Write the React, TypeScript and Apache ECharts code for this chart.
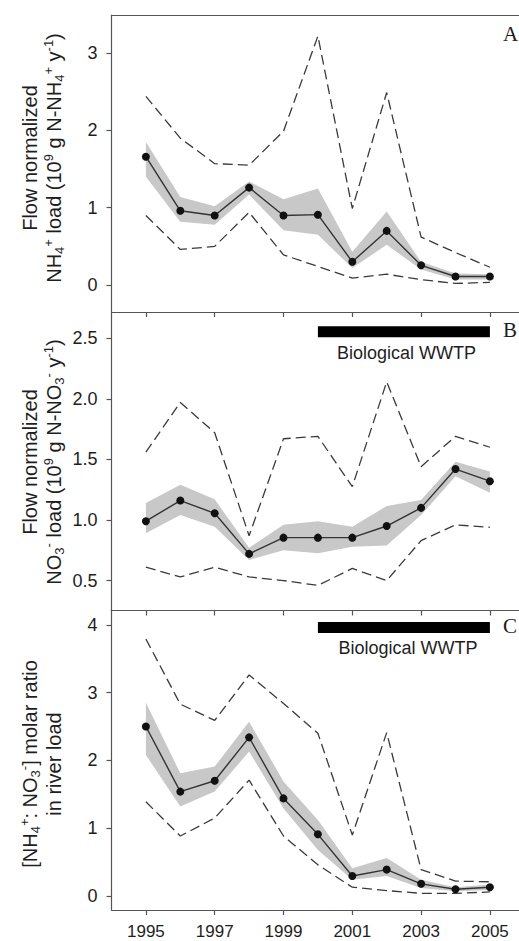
import React, { useEffect, useRef } from "react";
import * as echarts from "echarts";

// ---------- data ----------
const years = [1995, 1996, 1997, 1998, 1999, 2000, 2001, 2002, 2003, 2004, 2005];
const xTickYears = [1995, 1997, 1999, 2001, 2003, 2005];

// Panel A: NH4+ flow-normalized load
const nh4Mean = [1.66, 0.96, 0.9, 1.26, 0.9, 0.91, 0.3, 0.7, 0.255, 0.11, 0.11];
const nh4BandHigh = [1.85, 1.14, 1.02, 1.34, 1.11, 1.25, 0.43, 0.95, 0.3, 0.15, 0.14];
const nh4BandLow = [1.4, 0.82, 0.78, 1.17, 0.71, 0.65, 0.22, 0.52, 0.2, 0.07, 0.07];
const nh4DashHigh = [2.44, 1.9, 1.57, 1.55, 1.99, 3.22, 0.99, 2.49, 0.62, 0.42, 0.23];
const nh4DashLow = [0.9, 0.46, 0.5, 0.94, 0.39, 0.24, 0.09, 0.14, 0.07, 0.02, 0.035];
const nh4Ticks = [0, 1, 2, 3];

// Panel B: NO3- flow-normalized load
const no3Mean = [0.99, 1.16, 1.055, 0.72, 0.854, 0.854, 0.854, 0.95, 1.1, 1.42, 1.32];
const no3BandHigh = [1.14, 1.29, 1.17, 0.77, 0.96, 0.99, 0.945, 1.115, 1.165, 1.48, 1.4];
const no3BandLow = [0.89, 1.04, 0.945, 0.67, 0.75, 0.725, 0.78, 0.79, 1.04, 1.36, 1.225];
const no3DashHigh = [1.56, 1.97, 1.72, 0.87, 1.67, 1.69, 1.275, 2.14, 1.44, 1.69, 1.6];
const no3DashLow = [0.61, 0.53, 0.61, 0.53, 0.5, 0.46, 0.6, 0.5, 0.83, 0.96, 0.94];
const no3Ticks = [0.5, 1.0, 1.5, 2.0, 2.5];

// Panel C: NH4+:NO3- molar ratio
const ratioMean = [2.5, 1.54, 1.7, 2.34, 1.44, 0.91, 0.295, 0.39, 0.18, 0.1, 0.13];
const ratioBandHigh = [2.85, 1.81, 1.91, 2.57, 1.69, 1.12, 0.41, 0.56, 0.24, 0.13, 0.17];
const ratioBandLow = [2.08, 1.32, 1.54, 2.13, 1.29, 0.68, 0.24, 0.295, 0.12, 0.07, 0.09];
const ratioDashHigh = [3.79, 2.83, 2.59, 3.26, 2.84, 2.4, 0.9, 2.41, 0.39, 0.22, 0.21];
const ratioDashLow = [1.39, 0.885, 1.15, 1.71, 0.885, 0.46, 0.13, 0.08, 0.04, 0.04, 0.06];
const ratioTicks = [0, 1, 2, 3, 4];

// Biological WWTP period
const wwtpYears = [2000, 2005];
const wwtpLevelB = 2.553;
const wwtpLevelC = 3.96;
const wwtpLabel = "Biological WWTP";
const panelLetters = ["A", "B", "C"];

// ---------- styling ----------
const SANS = "'Liberation Sans', Arial, Helvetica, sans-serif";
const SERIF = "'Liberation Serif', 'Times New Roman', serif";
const AXIS = "#555555";
const TEXT = "#1e1e1e";
const BAND = "#c8c8c8";
const GL = 111.5;
const GW = 412.8;

function buildOption() {
  const grids = [
    { left: GL, top: 15, width: GW, height: 297 },
    { left: GL, top: 312, width: GW, height: 298.5 },
    { left: GL, top: 610.5, width: GW, height: 299.5 },
  ].map((g) => ({ ...g, containLabel: false, outerBoundsMode: "none" }));

  const lineStyle = { color: AXIS, width: 1.2 };

  const xAxisFor = (gi: number, showLabels: boolean) => ({
    type: "value",
    gridIndex: gi,
    min: 1994,
    max: 2006,
    position: "bottom",
    axisLine: { show: true, onZero: false, lineStyle },
    axisTick: { show: true, inside: false, length: 5, customValues: xTickYears, lineStyle },
    axisLabel: {
      show: showLabels,
      customValues: xTickYears,
      formatter: (v: number) => String(v),
      margin: 13,
      fontSize: 17,
      fontFamily: SANS,
      color: TEXT,
    },
    splitLine: { show: false },
  });

  const topAxis = {
    type: "value",
    gridIndex: 0,
    min: 1994,
    max: 2006,
    position: "top",
    axisLine: { show: true, onZero: false, lineStyle },
    axisTick: { show: false },
    axisLabel: { show: false },
    splitLine: { show: false },
  };

  const yAxisFor = (gi: number, min: number, max: number, ticks: number[], fmt: (v: number) => string) => ({
    type: "value",
    gridIndex: gi,
    min,
    max,
    position: "left",
    axisLine: { show: true, onZero: false, lineStyle },
    axisTick: { show: true, inside: false, length: 5, customValues: ticks, lineStyle },
    axisLabel: {
      customValues: ticks,
      formatter: fmt,
      margin: 14,
      fontSize: 18,
      fontFamily: SANS,
      color: TEXT,
    },
    splitLine: { show: false },
  });

  const band = (gi: number, lo: number[], hi: number[]) => ({
    type: "custom",
    xAxisIndex: gi,
    yAxisIndex: gi,
    z: 1,
    silent: true,
    data: years.map((y, i) => [y, lo[i], hi[i]]),
    encode: { x: 0, y: [1, 2] },
    renderItem: (params: any, api: any) => {
      if (params.dataIndex !== 0) return null;
      const top = years.map((y, i) => api.coord([y, hi[i]]));
      const bot = years.map((y, i) => api.coord([y, lo[i]])).reverse();
      return {
        type: "polygon",
        shape: { points: top.concat(bot) },
        style: { fill: BAND },
      };
    },
  });

  const dash = (gi: number, vals: number[]) => ({
    type: "line",
    xAxisIndex: gi,
    yAxisIndex: gi,
    z: 2,
    silent: true,
    data: years.map((y, i) => [y, vals[i]]),
    symbol: "none",
    lineStyle: { color: "#3a3a3a", width: 1.3, type: [10, 5] },
  });

  const mean = (gi: number, vals: number[]) => ({
    type: "line",
    xAxisIndex: gi,
    yAxisIndex: gi,
    z: 3,
    silent: true,
    data: years.map((y, i) => [y, vals[i]]),
    symbol: "circle",
    symbolSize: 8,
    itemStyle: { color: "#111111" },
    lineStyle: { color: "#333333", width: 1.4 },
  });

  const wwtp = (gi: number, level: number) => ({
    type: "line",
    xAxisIndex: gi,
    yAxisIndex: gi,
    z: 4,
    silent: true,
    data: wwtpYears.map((y) => [y, level]),
    symbol: "none",
    lineStyle: { color: "#000000", width: 11, cap: "butt" },
  });

  const baseTok = { fontSize: 20, fontFamily: SANS, fill: TEXT, lineHeight: 24 };
  const rich = {
    n: { ...baseTok },
    sup: { fontSize: 13, fontFamily: SANS, fill: TEXT, lineHeight: 24, padding: [0, 0, 12, 0] },
    sub: { fontSize: 13, fontFamily: SANS, fill: TEXT, lineHeight: 24, padding: [10, 0, 0, 0] },
  };

  const nameA =
    "{n|Flow normalized}\n{n|NH}{sub|4}{sup|+}{n| load (10}{sup|9}{n| g N-NH}{sub|4}{sup|+}{n| y}{sup|-1}{n|)}";
  const nameB =
    "{n|Flow normalized}\n{n|NO}{sub|3}{sup|-}{n| load (10}{sup|9}{n| g N-NO}{sub|3}{sup|-}{n| y}{sup|-1}{n|)}";
  const nameC = "{n|[NH}{sub|4}{sup|+}{n|: NO}{sub|3}{sup|-}{n|] molar ratio}\n{n|in river load}";

  const rotName = (text: string, x: number, y: number) => ({
    type: "text",
    x,
    y,
    rotation: Math.PI / 2,
    silent: true,
    style: {
      text,
      rich,
      fontSize: 20,
      fontFamily: SANS,
      fill: TEXT,
      lineHeight: 24,
      align: "center",
      verticalAlign: "middle",
    },
  });

  const letter = (t: string, x: number, y: number) => ({
    type: "text",
    x,
    y,
    silent: true,
    style: {
      text: t,
      fontSize: 21,
      fontFamily: SERIF,
      fill: TEXT,
      align: "left",
      verticalAlign: "middle",
    },
  });

  const wwtpText = (x: number, y: number) => ({
    type: "text",
    x,
    y,
    silent: true,
    style: {
      text: wwtpLabel,
      fontSize: 18,
      fontFamily: SANS,
      fill: TEXT,
      align: "center",
      verticalAlign: "middle",
    },
  });

  return {
    animation: false,
    backgroundColor: "#ffffff",
    grid: grids,
    xAxis: [xAxisFor(0, false), xAxisFor(1, false), xAxisFor(2, true), topAxis],
    yAxis: [
      yAxisFor(0, -0.349, 3.493, nh4Ticks, (v: number) => String(v)),
      yAxisFor(1, 0.253, 2.716, no3Ticks, (v: number) => v.toFixed(1)),
      yAxisFor(2, -0.206, 4.211, ratioTicks, (v: number) => String(v)),
    ],
    series: [
      band(0, nh4BandLow, nh4BandHigh),
      dash(0, nh4DashHigh),
      dash(0, nh4DashLow),
      mean(0, nh4Mean),

      band(1, no3BandLow, no3BandHigh),
      dash(1, no3DashHigh),
      dash(1, no3DashLow),
      mean(1, no3Mean),
      wwtp(1, wwtpLevelB),

      band(2, ratioBandLow, ratioBandHigh),
      dash(2, ratioDashHigh),
      dash(2, ratioDashLow),
      mean(2, ratioMean),
      wwtp(2, wwtpLevelC),
    ],
    graphic: [
      rotName(nameA, 42, 158),
      rotName(nameB, 42, 462),
      rotName(nameC, 42, 764),
      letter(panelLetters[0], 503, 34),
      letter(panelLetters[1], 503, 330),
      letter(panelLetters[2], 503, 626),
      wwtpText(406.5, 353),
      wwtpText(408, 648),
    ],
  };
}

export default function App() {
  const ref = useRef<HTMLDivElement>(null);
  useEffect(() => {
    if (!ref.current) return;
    const chart = echarts.init(ref.current, null, { renderer: "svg" });
    chart.setOption(buildOption() as any);
    return () => chart.dispose();
  }, []);
  return (
    <div
      ref={ref}
      style={{ position: "absolute", left: 0, top: 0, width: 519, height: 941, background: "#fff" }}
    />
  );
}
